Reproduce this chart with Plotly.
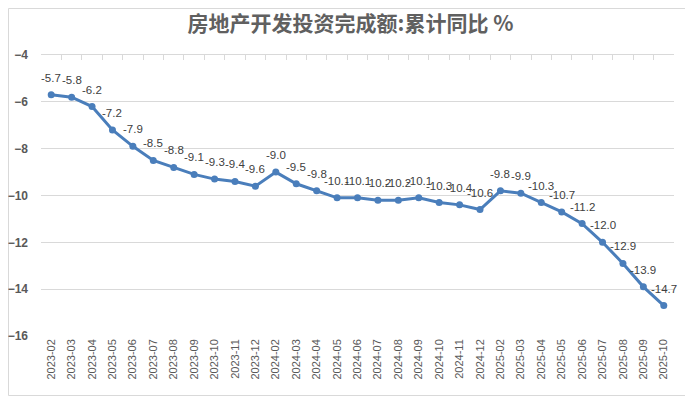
import plotly.graph_objects as go

months = ["2023-02","2023-03","2023-04","2023-05","2023-06","2023-07","2023-08","2023-09","2023-10","2023-11","2023-12",
          "2024-02","2024-03","2024-04","2024-05","2024-06","2024-07","2024-08","2024-09","2024-10","2024-11","2024-12",
          "2025-02","2025-03","2025-04","2025-05","2025-06","2025-07","2025-08","2025-09","2025-10"]
values = [-5.7,-5.8,-6.2,-7.2,-7.9,-8.5,-8.8,-9.1,-9.3,-9.4,-9.6,
          -9.0,-9.5,-9.8,-10.1,-10.1,-10.2,-10.2,-10.1,-10.3,-10.4,-10.6,
          -9.8,-9.9,-10.3,-10.7,-11.2,-12.0,-12.9,-13.9,-14.7]
y_ticks = [-4,-6,-8,-10,-12,-14,-16]
title = "房地产开发投资完成额:累计同比 %"

blue = "#4A7EBB"
grid = "#D9D9D9"
txt = "#595959"

fig = go.Figure()
fig.add_trace(go.Scatter(x=months, y=values, mode="lines+markers",
                         line=dict(color=blue, width=3),
                         marker=dict(color=blue, size=7),
                         hoverinfo="skip", showlegend=False))
fig.add_trace(go.Scatter(x=months, y=values, mode="none", xaxis="x2",
                         hoverinfo="skip", showlegend=False))

annotations = [dict(x=m, y=v, text=f"{v:.1f}", showarrow=False, yshift=17,
                    font=dict(family="Liberation Sans", size=11.5, color="#404040"))
               for m, v in zip(months, values)]

fig.update_layout(
    width=685, height=388,
    margin=dict(l=33, r=19, t=47, b=60, autoexpand=False),
    paper_bgcolor="white", plot_bgcolor="white",
    title=dict(text=f"<b>{title}</b>", x=0.5, xanchor="center", y=1 - 16/388, yanchor="middle",
               font=dict(family="Noto Sans CJK SC", size=21, color="#606060")),
    xaxis=dict(type="category", range=[-0.5, len(months)-0.5], showgrid=False, showline=False,
               automargin=False,
               ticks="", tickangle=-90, tickfont=dict(family="Liberation Sans", size=11, color=txt)),
    xaxis2=dict(type="category", overlaying="x", side="top", anchor="y", automargin=False,
                range=[-0.5, len(months)-0.5], showgrid=False, showline=True, linecolor=grid, linewidth=1,
                ticks="inside", ticklen=5, tickcolor=grid, tickson="boundaries", showticklabels=False),
    yaxis=dict(range=[-16, -4], tickvals=y_ticks, showgrid=True, gridcolor=grid, gridwidth=1,
               zeroline=False, showline=False, ticklabelstandoff=12, automargin=False,
               tickfont=dict(family="Liberation Sans", size=12, color=txt, weight="bold")),
    annotations=annotations,
    shapes=[dict(type="rect", xref="paper", yref="paper",
                 x0=-32.5/633, x1=1+18/633, y0=-59.5/281, y1=1+46.5/281,
                 line=dict(color=grid, width=1), fillcolor="rgba(0,0,0,0)", layer="below")],
)

fig.write_html("out.html")
